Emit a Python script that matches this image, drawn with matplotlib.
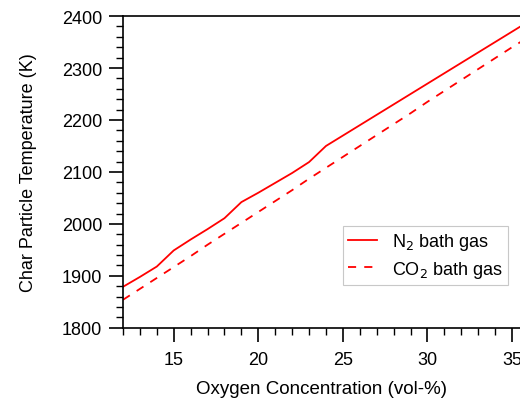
import matplotlib
matplotlib.use('Agg')
import matplotlib.pyplot as plt
from matplotlib.ticker import MultipleLocator

plt.rcParams['font.family'] = ['Liberation Sans', 'DejaVu Sans']

# Oxygen concentration (vol-%) and char particle temperature (K)
o2 = [12, 13, 14, 15, 16, 17, 18, 19, 20, 21, 22, 23, 24, 25, 26, 27, 28, 29, 30,
      31, 32, 33, 34, 35, 35.5]
t_n2 = [1879, 1898, 1918, 1949, 1970, 1990, 2011, 2042, 2060, 2079, 2098, 2119, 2150,
        2170, 2190, 2210, 2230, 2250, 2270, 2290, 2310, 2330, 2350, 2370, 2380]
t_co2 = [1854, 1875, 1896, 1917, 1938, 1960, 1981, 2002, 2023, 2044, 2065, 2087, 2108,
         2129, 2150, 2171, 2192, 2213, 2235, 2256, 2277, 2298, 2319, 2340, 2350]

fig = plt.figure(figsize=(5.2, 4.06), dpi=100)
ax = fig.add_axes([0.2365, 0.19, 0.7635, 0.768])

ax.plot(o2, t_n2, color='red', lw=1.3, label='N$_2$ bath gas')
ax.plot(o2, t_co2, color='red', lw=1.3, dashes=(4.5, 4.5), label='CO$_2$ bath gas')

ax.set_xlim(12, 35.47)
ax.set_ylim(1800, 2400)
ax.xaxis.set_major_locator(MultipleLocator(5))
ax.xaxis.set_minor_locator(MultipleLocator(1))
ax.yaxis.set_major_locator(MultipleLocator(100))
ax.yaxis.set_minor_locator(MultipleLocator(20))

ax.spines['right'].set_visible(False)
for s in ['left', 'top', 'bottom']:
    ax.spines[s].set_linewidth(1.2)
ax.tick_params(which='major', direction='out', length=10, width=1.2, labelsize=13,
               top=False, right=False)
ax.tick_params(axis='x', which='major', pad=7)
ax.tick_params(axis='y', which='major', pad=5)
ax.tick_params(which='minor', direction='out', length=5, width=1.0, top=False, right=False)

ax.set_xlabel('Oxygen Concentration (vol-%)', fontsize=13.5, labelpad=8)
ax.set_ylabel('Char Particle Temperature (K)', fontsize=13, labelpad=18)

leg = ax.legend(loc='upper left', bbox_to_anchor=(0.554, 0.327), borderaxespad=0,
                fontsize=13, fancybox=False, framealpha=1, edgecolor='#c8c8c8',
                handlelength=1.6, handletextpad=0.8, borderpad=0.3, labelspacing=0.35)
leg.get_frame().set_linewidth(0.8)

fig.savefig('out.png', dpi=100)
